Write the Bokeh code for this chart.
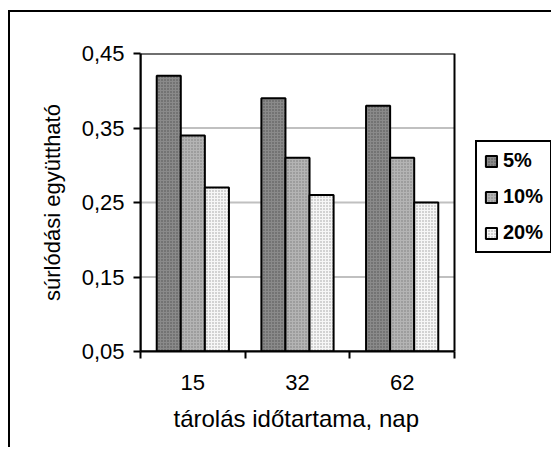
import numpy as np
from bokeh.plotting import figure
from bokeh.models import (Range1d, FixedTicker, Legend, LegendItem, ColumnDataSource,
                          BoxAnnotation, Title)
from bokeh.embed import file_html
from bokeh.resources import INLINE

# ---- data ----
categories = ["15", "32", "62"]
series = ["5%", "10%", "20%"]
v5 = [0.42, 0.39, 0.38]
v10 = [0.34, 0.31, 0.31]
v20 = [0.27, 0.26, 0.25]
y_ticks = [0.05, 0.15, 0.25, 0.35, 0.45]
y_tick_labels = ["0,05", "0,15", "0,25", "0,35", "0,45"]
x_title = "tárolás időtartama, nap"
y_title = "súrlódási együttható"

FONT = "Liberation Sans"

# frame extends right so the legend area is inside it; the bar area spans 314 of 411 px
n = len(categories)
p = figure(frame_width=411, frame_height=298, output_backend="svg", toolbar_location=None,
           x_range=Range1d(0, n * 411 / 314), y_range=Range1d(y_ticks[0], y_ticks[-1]),
           min_border_left=130, min_border_right=0, min_border_top=41, min_border_bottom=96)
p.styles = {"border-left": "2px solid black", "border-top": "2px solid black",
            "margin-left": "8px", "margin-top": "10px"}
p.outline_line_color = None

# horizontal gridlines only across the bar area
p.segment(x0=0, x1=n, y0=y_ticks, y1=y_ticks, line_color="#c0c0c0", line_width=2, level="underlay")

centers = [i + 0.5 for i in range(n)]
offsets = [-0.23, 0.0, 0.23]
styles = [
    dict(fill_color="#8a8a8a", hatch_pattern=".", hatch_color="#505050", hatch_scale=3, hatch_weight=1),
    dict(fill_color="#b4b4b4", hatch_pattern=".", hatch_color="#7a7a7a", hatch_scale=3, hatch_weight=1),
    dict(fill_color="#f6f6f6", hatch_pattern=".", hatch_color="#9a9a9a", hatch_scale=3, hatch_weight=1),
]
renderers = []
for vals, off, st in zip([v5, v10, v20], offsets, styles):
    src = ColumnDataSource(dict(x=[c + off for c in centers], top=vals))
    r = p.vbar(x="x", top="top", bottom=0, width=0.23, source=src,
               line_color="black", line_width=2, **st)
    renderers.append(r)

# plot-area border
p.add_layout(BoxAnnotation(left=0, right=n, bottom=y_ticks[0], top=y_ticks[-1],
                           fill_alpha=0, line_color="black", line_width=2, line_alpha=1))

# axes
p.xaxis.bounds = (0, n)
p.xaxis.ticker = FixedTicker(ticks=centers, minor_ticks=list(range(n + 1)))
p.xaxis.major_label_overrides = {c: lab for c, lab in zip(centers, categories)}
p.xaxis.major_tick_out = 0
p.xaxis.major_tick_in = 0
p.xaxis.minor_tick_out = 7
p.xaxis.minor_tick_in = 0
p.xaxis.minor_tick_line_width = 2
p.xaxis.minor_tick_line_color = "black"
p.xaxis.major_label_standoff = 16

p.yaxis.ticker = FixedTicker(ticks=y_ticks, minor_ticks=[])
p.yaxis.major_label_overrides = {t: lab for t, lab in zip(y_ticks, y_tick_labels)}
p.yaxis.major_tick_out = 7
p.yaxis.major_tick_in = 0
p.yaxis.major_label_standoff = 9
p.yaxis.axis_label = y_title
p.yaxis.axis_label_standoff = 14

for ax in (p.xaxis[0], p.yaxis[0]):
    ax.axis_line_color = "black"
    ax.axis_line_width = 2
    ax.major_tick_line_color = "black"
    ax.major_tick_line_width = 2
    ax.major_label_text_font = FONT
    ax.major_label_text_font_size = "22px"
    ax.major_label_text_color = "black"
    ax.axis_label_text_font = FONT
    ax.axis_label_text_font_style = "normal"
    ax.axis_label_text_color = "black"
p.yaxis.axis_label_text_font_size = "22px"

# x-axis title, centred under the bar area (not the whole frame)
p.add_layout(Title(text=x_title, align="left", offset=33, standoff=21,
                   text_font=FONT, text_font_size="24px", text_font_style="normal",
                   text_color="black"), "below")

p.xgrid.visible = False
p.ygrid.visible = False

legend = Legend(items=[LegendItem(label=s, renderers=[r]) for s, r in zip(series, renderers)],
                location=(335, 98), margin=0, padding=7, spacing=13,
                glyph_width=14, glyph_height=14, label_standoff=5, label_height=20,
                label_text_font=FONT, label_text_font_size="20px", label_text_font_style="bold",
                label_text_color="black",
                border_line_color="black", border_line_width=2, border_line_alpha=1,
                background_fill_alpha=1)
p.add_layout(legend, "center")

open("out.html", "w").write(file_html(p, INLINE))
